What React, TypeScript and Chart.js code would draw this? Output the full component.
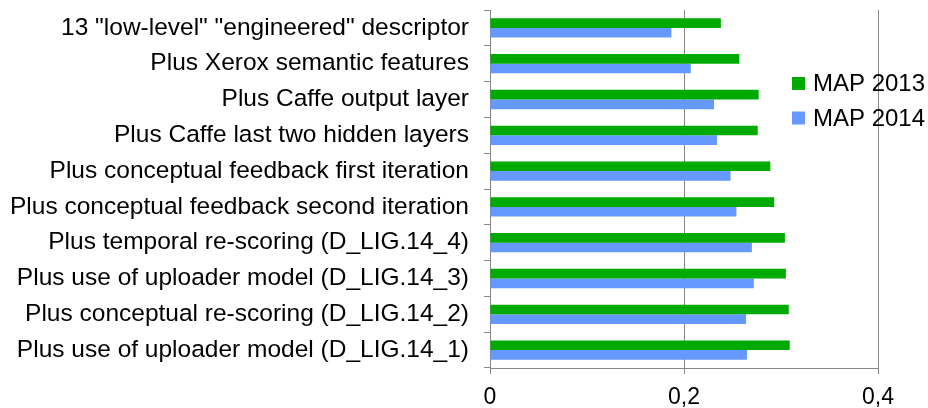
import React, { useEffect, useRef } from "react";
import { Chart, registerables } from "chart.js";

Chart.register(...registerables);

const categories = [
  '13 "low-level" "engineered" descriptor',
  "Plus Xerox semantic features",
  "Plus Caffe output layer",
  "Plus Caffe last two hidden layers",
  "Plus conceptual feedback first iteration",
  "Plus conceptual feedback second iteration",
  "Plus temporal re-scoring (D_LIG.14_4)",
  "Plus use of uploader model (D_LIG.14_3)",
  "Plus conceptual re-scoring (D_LIG.14_2)",
  "Plus use of uploader model (D_LIG.14_1)",
];

const map2013 = [0.238, 0.257, 0.277, 0.276, 0.289, 0.293, 0.304, 0.305, 0.308, 0.309];
const map2014 = [0.187, 0.207, 0.231, 0.234, 0.248, 0.254, 0.27, 0.272, 0.264, 0.265];

const seriesNames = ["MAP 2013", "MAP 2014"];
const seriesColors = ["#00aa00", "#6699ff"];
const xTicks = [0, 0.2, 0.4];

const FONT = "'Liberation Sans', Arial, sans-serif";

const legendPlugin = {
  id: "customLegend",
  afterDraw(chart: any) {
    const ctx = chart.ctx;
    ctx.save();
    const x0 = 792;
    const rows = [83.5, 118];
    chart.data.datasets.forEach((ds: any, i: number) => {
      const cy = rows[i];
      ctx.fillStyle = ds.backgroundColor;
      ctx.fillRect(x0, cy - 6.5, 13, 13);
      ctx.fillStyle = "#000";
      ctx.font = `24px ${FONT}`;
      ctx.textBaseline = "middle";
      ctx.textAlign = "left";
      ctx.fillText(ds.label, x0 + 21, cy + 1);
    });
    ctx.restore();
  },
};

export default function App() {
  const ref = useRef<HTMLCanvasElement>(null);
  useEffect(() => {
    if (!ref.current) return;
    const chart = new Chart(ref.current, {
      type: "bar",
      data: {
        labels: categories,
        datasets: [
          { label: seriesNames[0], data: map2013, backgroundColor: seriesColors[0] },
          { label: seriesNames[1], data: map2014, backgroundColor: seriesColors[1] },
        ],
      },
      options: {
        indexAxis: "y",
        responsive: false,
        animation: false,
        devicePixelRatio: 1,
        layout: { padding: { left: 0, right: 50, top: 10, bottom: 0 } },
        datasets: { bar: { categoryPercentage: 0.54, barPercentage: 1 } },
        plugins: { legend: { display: false }, tooltip: { enabled: false } },
        scales: {
          x: {
            min: 0,
            max: 0.4,
            afterBuildTicks(scale: any) {
              scale.ticks = xTicks.map((v) => ({ value: v }));
            },
            afterFit(scale: any) {
              scale.height = 40;
              scale.paddingLeft = 0;
              scale.paddingRight = 0;
            },
            ticks: {
              color: "#000",
              font: { family: FONT, size: 23 },
              padding: 10,
              maxRotation: 0,
              callback: (v: any) => (Number(v) === 0 ? "0" : Number(v).toFixed(1).replace(".", ",")),
            },
            grid: { color: "#878787", lineWidth: 1, tickLength: 6, drawTicks: true },
            border: { display: true, color: "#878787" },
          },
          y: {
            afterFit(scale: any) {
              scale.width = 490;
              scale.paddingTop = 0;
              scale.paddingBottom = 0;
            },
            ticks: {
              color: "#000",
              font: { family: FONT, size: 24.5 },
              padding: 15,
              autoSkip: false,
            },
            grid: { drawOnChartArea: false, drawTicks: true, tickLength: 6, color: "#878787", offset: true },
            border: { display: true, color: "#878787" },
          },
        },
      },
      plugins: [legendPlugin],
    });
    return () => chart.destroy();
  }, []);
  return (
    <div style={{ position: "fixed", left: 0, top: 0, width: 928, height: 408, background: "#fff" }}>
      <canvas ref={ref} width={928} height={408} style={{ display: "block" }} />
    </div>
  );
}
